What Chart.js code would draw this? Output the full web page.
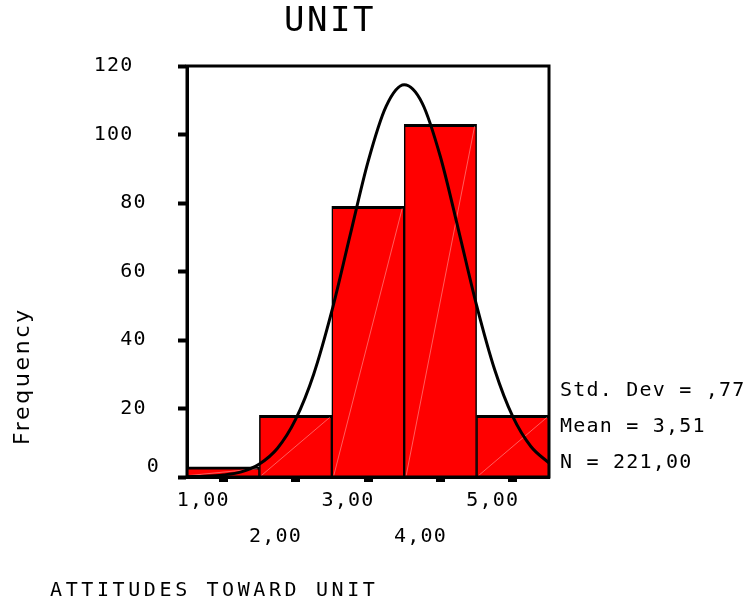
<!DOCTYPE html>
<html>
<head>
<meta charset="utf-8">
<script src="https://cdn.jsdelivr.net/npm/chart.js@4/dist/chart.umd.min.js"></script>
<style>
  html, body { margin: 0; padding: 0; background: #fff; }
  canvas { display: block; }
</style>
</head>
<body>
<canvas id="histChart" width="749" height="613"></canvas>
<script>
// histogram bins (midpoints) and counts
const categories = ['1,00', '2,00', '3,00', '4,00', '5,00'];
const frequency = [3, 18, 79, 103, 18];

// fitted normal curve, sampled along the x axis
const curveX = [0.5, 0.75, 1.0, 1.25, 1.5, 1.75, 2.0, 2.25, 2.5, 2.75, 3.0,
                3.25, 3.5, 3.75, 4.0, 4.25, 4.5, 4.75, 5.0, 5.25, 5.5];
const curveY = [0.1, 0.2, 0.6, 1.5, 3.8, 8.4, 16.8, 30.0, 48.4, 70.3, 92.0,
                108.2, 114.5, 109.1, 93.5, 72.1, 50.1, 31.3, 17.6, 8.9, 4.1];

const statLines = ['Std. Dev = ,77', 'Mean = 3,51', 'N = 221,00'];
const chartTitle = 'UNIT';
const xTitle = 'ATTITUDES TOWARD UNIT';
const yTitle = 'Frequency';

const MONO = "'DejaVu Sans Mono', monospace";

const curvePoints = curveX.map((x, i) => ({ x: x, y: curveY[i] }));

// faint diagonal inside every bar, bottom-left to top-right
const barDiagonals = {
    id: 'barDiagonals',
    afterDatasetDraw(chart, args) {
        if (args.meta.type !== 'bar') return;
        const ctx = chart.ctx;
        ctx.save();
        ctx.strokeStyle = 'rgba(255, 190, 190, 0.7)';
        ctx.lineWidth = 0.7;
        args.meta.data.forEach(bar => {
            const p = bar.getProps(['x', 'y', 'base', 'width'], true);
            ctx.beginPath();
            ctx.moveTo(p.x - p.width / 2 + 2, p.base - 1);
            ctx.lineTo(p.x + p.width / 2 - 2, p.y + 2);
            ctx.stroke();
        });
        ctx.restore();
    }
};

// frame, titles and the summary box
const decorations = {
    id: 'decorations',
    beforeUpdate(chart) {
        chart.ctx.letterSpacing = '1.2px';
    },
    afterDraw(chart) {
        const ctx = chart.ctx;
        const a = chart.chartArea;
        ctx.save();
        ctx.strokeStyle = '#000';
        ctx.lineWidth = 3;
        ctx.strokeRect(a.left, a.top, a.right - a.left, a.bottom - a.top);

        ctx.fillStyle = '#000';
        ctx.textBaseline = 'middle';

        ctx.letterSpacing = '2.5px';
        ctx.font = '34px ' + MONO;
        ctx.textAlign = 'center';
        ctx.fillText(chartTitle, 330, 22);

        ctx.letterSpacing = '1.2px';
        ctx.font = '20px ' + MONO;
        ctx.textAlign = 'left';
        statLines.forEach((s, i) => ctx.fillText(s, a.right + 11, 391 + i * 36));

        ctx.letterSpacing = '3.6px';
        ctx.fillText(xTitle, 50, 591);

        ctx.letterSpacing = '2.7px';
        ctx.font = "22px 'DejaVu Sans', sans-serif";
        ctx.translate(23, 376);
        ctx.rotate(-Math.PI / 2);
        ctx.textAlign = 'center';
        ctx.fillText(yTitle, 0, 0);
        ctx.restore();
    }
};

new Chart(document.getElementById('histChart'), {
    type: 'bar',
    data: {
        labels: categories,
        datasets: [{
            type: 'line',
            data: curvePoints,
            xAxisID: 'xc',
            borderColor: '#000',
            borderWidth: 3,
            pointRadius: 0,
            cubicInterpolationMode: 'monotone',
            fill: false,
            order: 0
        }, {
            data: frequency,
            backgroundColor: '#ff0000',
            borderColor: '#000',
            // neighbouring bars share one 3px edge
            borderWidth: { top: 3, left: 1.5, right: 1.5, bottom: 0 },
            borderSkipped: false,
            grouped: false,
            barPercentage: 1,
            categoryPercentage: 1,
            order: 1
        }]
    },
    options: {
        responsive: false,
        animation: false,
        layout: { padding: { top: 66, right: 200, bottom: 0, left: 0 } },
        plugins: {
            legend: { display: false },
            tooltip: { enabled: false }
        },
        scales: {
            x: {
                afterFit(scale) { scale.height = 136; },
                border: { color: '#000', width: 3 },
                grid: {
                    offset: false,
                    drawOnChartArea: false,
                    color: '#000',
                    tickLength: 5,
                    tickWidth: 9
                },
                ticks: {
                    color: '#000',
                    font: { family: MONO, size: 20, lineHeight: 1.8 },
                    padding: 1,
                    labelOffset: -20,
                    maxRotation: 0,
                    autoSkip: false,
                    // staggered rows: odd bins on top, even bins below
                    callback(value, index) {
                        const lab = this.getLabelForValue(value);
                        return index % 2 === 0 ? [lab, ''] : ['', lab];
                    }
                }
            },
            xc: {
                type: 'linear',
                display: false,
                offset: false,
                min: 0.5,
                max: 5.5
            },
            y: {
                min: 0,
                max: 120,
                afterFit(scale) { scale.width = 187; },
                border: { color: '#000', width: 3 },
                grid: {
                    drawOnChartArea: false,
                    color: '#000',
                    tickLength: 9,
                    tickWidth: 4
                },
                ticks: {
                    stepSize: 20,
                    color: '#000',
                    padding: 18,
                    font: { family: MONO, size: 20, lineHeight: 1 },
                    callback(v) {
                        if (v === 0) return ['0', ''];
                        return v >= 100 ? v + '  ' : v + ' ';
                    }
                }
            }
        }
    },
    plugins: [barDiagonals, decorations]
});
</script>
</body>
</html>
